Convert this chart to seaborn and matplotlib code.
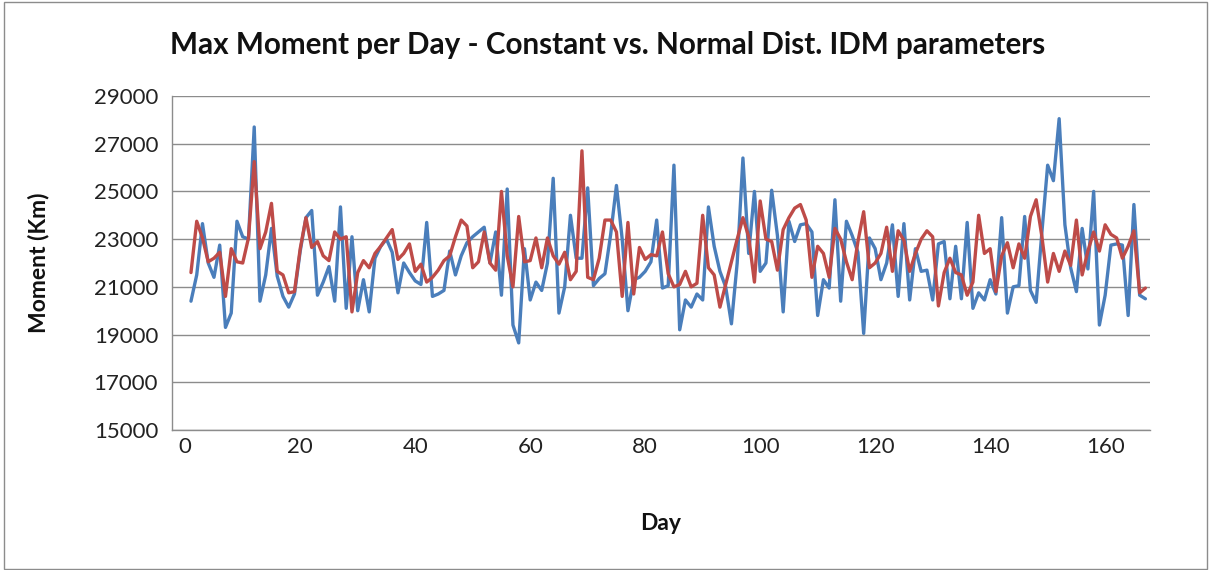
import matplotlib
matplotlib.use("Agg")
import matplotlib.pyplot as plt
import seaborn as sns
import pandas as pd
import numpy as np
from matplotlib.patches import Rectangle

# Maximum moment per simulated day (days 1..167)
days = list(range(1, 168))

constant_idm = [
    20400, 21500, 23650, 22000, 21400, 22750, 19300, 19900, 23750, 23100,
    23000, 27700, 20400, 21500, 23450, 21450, 20600, 20150, 20700, 22500,
    23900, 24200, 20650, 21200, 21850, 20400, 24350, 20100, 23100, 20000,
    21300, 19950, 22200, 22700, 23000, 22450, 20750, 22000, 21600, 21250,
    21100, 23700, 20600, 20700, 20850, 22500, 21500, 22300, 22850, 23100,
    23300, 23500, 22000, 23300, 20650, 25100, 19400, 18650, 22600, 20450,
    21200, 20850, 22000, 25550, 19900, 21000, 24000, 22200, 22200, 25150,
    21050, 21350, 21550, 23200, 25250, 23000, 20000, 21300, 21400, 21650,
    22050, 23800, 20950, 21050, 26100, 19200, 20450, 20150, 20700, 20450,
    24350, 22700, 21650, 21000, 19450, 22000, 26400, 22400, 25000, 21650,
    22000, 25050, 23150, 19950, 23750, 22900, 23600, 23650, 23300, 19800,
    21300, 20950, 24650, 20400, 23750, 23150, 22450, 19050, 23050, 22600,
    21300, 22000, 23600, 20600, 23650, 20450, 22600, 21650, 21700, 20450,
    22800, 22900, 20500, 22700, 20500, 23700, 20100, 20750, 20450, 21300,
    20700, 23900, 19900, 21000, 21050, 23950, 20850, 20350, 23300, 26100,
    25450, 28050, 23600, 21800, 20800, 23450, 21750, 25000, 19400, 20650,
    22750, 22800, 22750, 19800, 24450, 20650, 20500,
]

normal_idm = [
    21600, 23750, 23050, 22050, 22200, 22450, 20600, 22600, 22050, 22000,
    23050, 26250, 22600, 23300, 24500, 21650, 21500, 20750, 20800, 22600,
    23900, 22650, 22900, 22300, 22100, 23300, 23000, 23100, 19950, 21600,
    22100, 21800, 22400, 22700, 23050, 23400, 22150, 22400, 22800, 21650,
    21950, 21200, 21400, 21700, 22100, 22300, 23100, 23800, 23550, 21800,
    22050, 23300, 22000, 21700, 25000, 22300, 21000, 23950, 22050, 22100,
    23050, 21800, 23050, 22300, 21950, 22450, 21300, 21650, 26700, 21400,
    21300, 22200, 23800, 23800, 23300, 20600, 23700, 20700, 22650, 22150,
    22350, 22300, 23300, 21550, 21000, 21100, 21650, 21000, 21150, 24000,
    21800, 21500, 20150, 21100, 22050, 23000, 23900, 23100, 21200, 24600,
    23000, 22900, 21700, 23400, 23900, 24300, 24450, 23800, 21400, 22700,
    22400, 21400, 23450, 23000, 22050, 21300, 22900, 24150, 21800, 22000,
    22400, 23500, 21650, 23350, 22950, 21650, 22400, 23000, 23350, 23100,
    20200, 21600, 22200, 21600, 21500, 20650, 21200, 24000, 22400, 22600,
    20800, 22300, 22850, 21800, 22800, 22200, 23950, 24650, 23100, 21200,
    22400, 21650, 22500, 21900, 23800, 21500, 22500, 23300, 22500, 23600,
    23200, 23050, 22200, 22700, 23350, 20750, 20950,
]

series_names = ["Constant", "Normal Dist."]
series_colors = ["#4A7EBB", "#BE4B48"]

y_ticks = [15000, 17000, 19000, 21000, 23000, 25000, 27000, 29000]
x_ticks = [0, 20, 40, 60, 80, 100, 120, 140, 160]

df = pd.DataFrame({
    "Day": days * 2,
    "Moment": constant_idm + normal_idm,
    "Series": [series_names[0]] * len(days) + [series_names[1]] * len(days),
})

sns.set_theme(style="white")
plt.rcParams["font.family"] = ["Lato", "DejaVu Sans"]

fig = plt.figure(figsize=(12.12, 5.70), dpi=100)
ax = fig.add_axes([172 / 1212, 1 - 430 / 570, (1150 - 172) / 1212, (430 - 96) / 570])

sns.lineplot(
    data=df, x="Day", y="Moment", hue="Series",
    palette=dict(zip(series_names, series_colors)),
    linewidth=2.4, legend=False, ax=ax,
)

ax.set_xlim(-2.3, 167.8)
ax.set_ylim(15000, 29000)
ax.set_yticks(y_ticks)
ax.set_xticks(x_ticks)
ax.set_yticklabels([str(v) for v in y_ticks], fontsize=16, color="#222222")
ax.set_xticklabels([str(v) for v in x_ticks], fontsize=16, color="#222222")
ax.yaxis.grid(True, color="#8C8C8C", linewidth=1.0)
ax.xaxis.grid(False)
ax.set_axisbelow(True)

for side in ["top", "right"]:
    ax.spines[side].set_visible(False)
for side in ["left", "bottom"]:
    ax.spines[side].set_color("#8C8C8C")
    ax.spines[side].set_linewidth(1.0)

ax.tick_params(axis="y", which="both", direction="out", length=5, color="#8C8C8C", pad=5)
ax.tick_params(axis="x", which="both", direction="out", length=4, color="#8C8C8C", pad=1)

ax.set_xlabel("Day", fontsize=16.5, fontweight="bold", labelpad=40, color="#111111")
ax.set_ylabel("Moment (Km)", fontsize=16.5, fontweight="bold", labelpad=32, color="#111111")

fig.text(608 / 1212, 1 - 45 / 570,
         "Max Moment per Day - Constant vs. Normal Dist. IDM parameters",
         ha="center", va="center", fontsize=21.3, fontweight="bold", color="#111111")

# chart-area frame
fig.patches.append(Rectangle((4 / 1212, 1 / 570), 1203 / 1212, 567 / 570,
                             transform=fig.transFigure, fill=False,
                             edgecolor="#8C8C8C", linewidth=1.0))

fig.savefig("out.png", dpi=100)
